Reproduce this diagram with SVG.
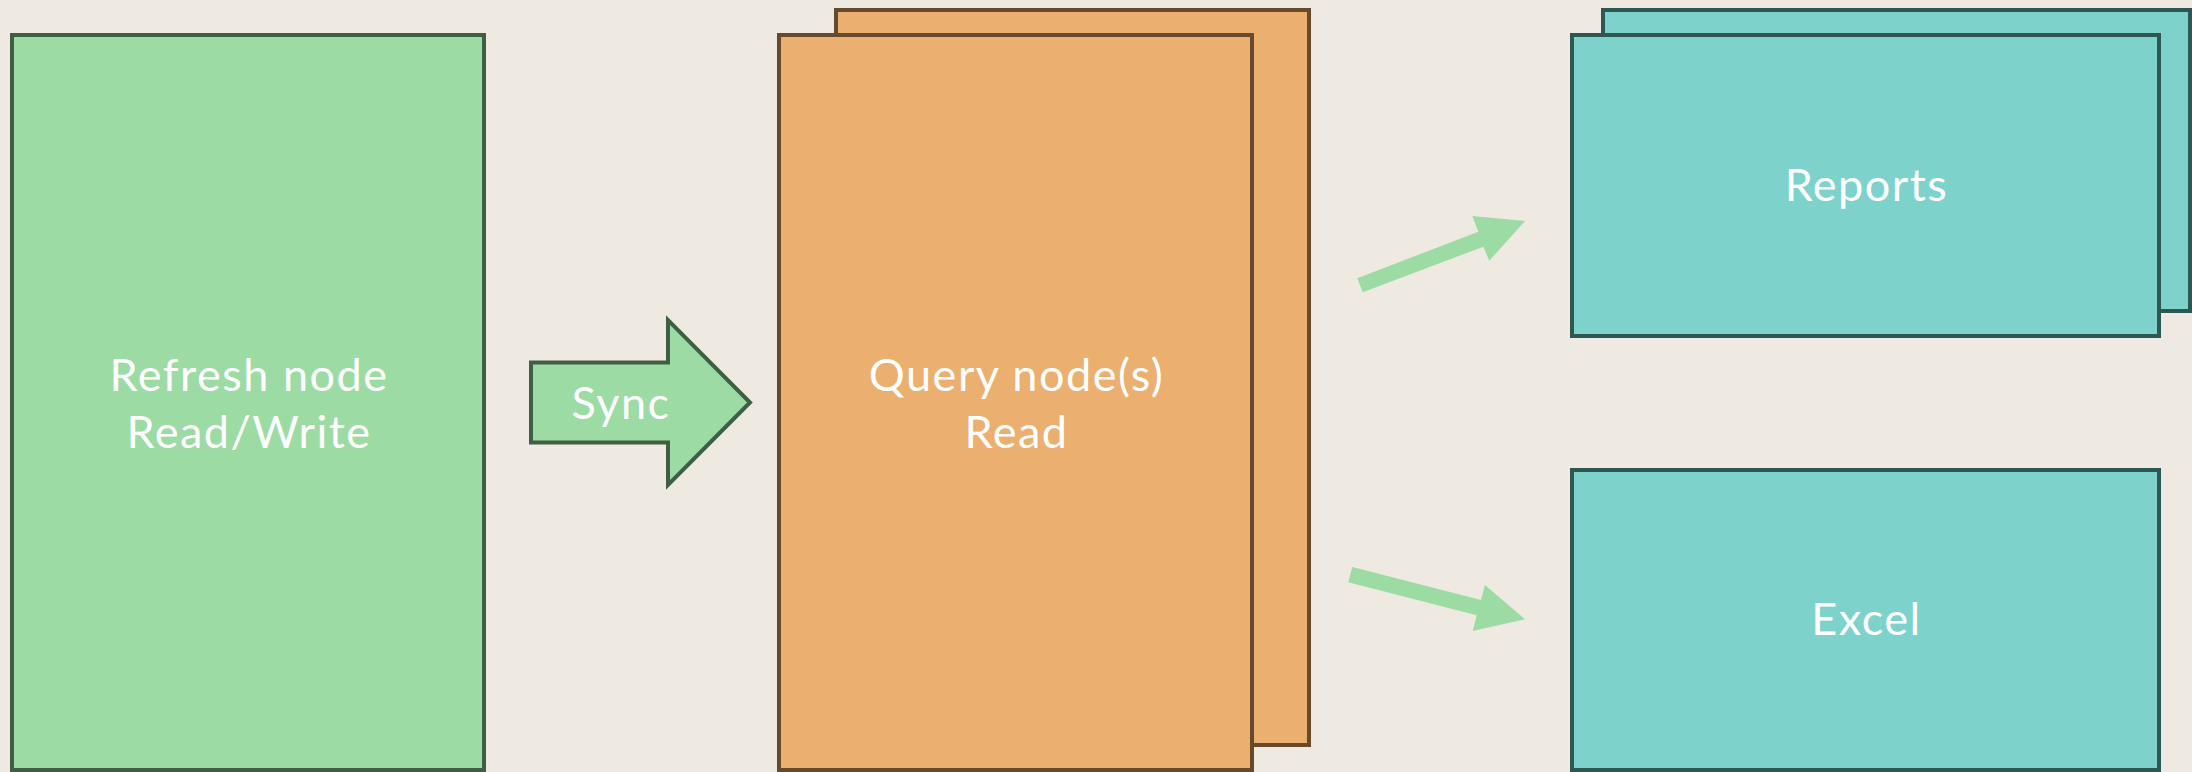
<svg xmlns="http://www.w3.org/2000/svg" width="2192" height="772" viewBox="0 0 2192 772">
  <style>
    .bg { fill: #eee9e1; }
    .green { fill: #9cdba3; stroke: #3f5f44; stroke-width: 4; }
    .orange { fill: #ebaf70; stroke: #654b2b; stroke-width: 4; }
    .teal { fill: #7dd3cc; stroke: #2e5754; stroke-width: 4; }
    .flow { fill: #9cdba3; stroke: none; }
    .label { font-family: Lato, "Liberation Sans", sans-serif; font-size: 45px; font-weight: 400; letter-spacing: 1.5px; fill: #ffffff; text-anchor: middle; }
  </style>

  <rect class="bg" x="0" y="0" width="2192" height="772"/>

  <!-- Read/write node -->
  <g id="refresh-node">
    <rect class="green" x="12" y="35" width="472" height="735"/>
    <text class="label" x="249" y="391">Refresh node</text>
    <text class="label" x="249" y="448">Read/Write</text>
  </g>

  <!-- Block arrow for the sync step -->
  <g id="sync">
    <polygon class="green" points="531,362.5 668,362.5 668,320 750,402.5 668,485 668,442.5 531,442.5"/>
    <text class="label" x="621" y="419">Sync</text>
  </g>

  <!-- Stack of read-only query nodes -->
  <g id="query-nodes">
    <rect class="orange" x="836" y="10" width="473" height="735"/>
    <rect class="orange" x="779" y="35" width="473" height="735"/>
    <text class="label" x="1016.5" y="391">Query node(s)</text>
    <text class="label" x="1016.5" y="448">Read</text>
  </g>

  <!-- Consumers -->
  <g id="reports">
    <rect class="teal" x="1603" y="10" width="587" height="301"/>
    <rect class="teal" x="1572" y="35" width="587" height="301"/>
    <text class="label" x="1866.5" y="201">Reports</text>
  </g>

  <g id="excel">
    <rect class="teal" x="1572" y="470" width="587" height="300"/>
    <text class="label" x="1866.5" y="635">Excel</text>
  </g>

  <g id="connectors">
    <polygon class="flow" points="1357.3,278.3 1478.3,231.7 1472.3,216 1525,221 1489.3,260.7 1483.3,246.7 1362.7,292.3"/>
    <polygon class="flow" points="1352.3,567 1481,600 1485,585 1525,619.3 1472.7,631 1476.7,615.3 1348.3,582.3"/>
  </g>
</svg>
